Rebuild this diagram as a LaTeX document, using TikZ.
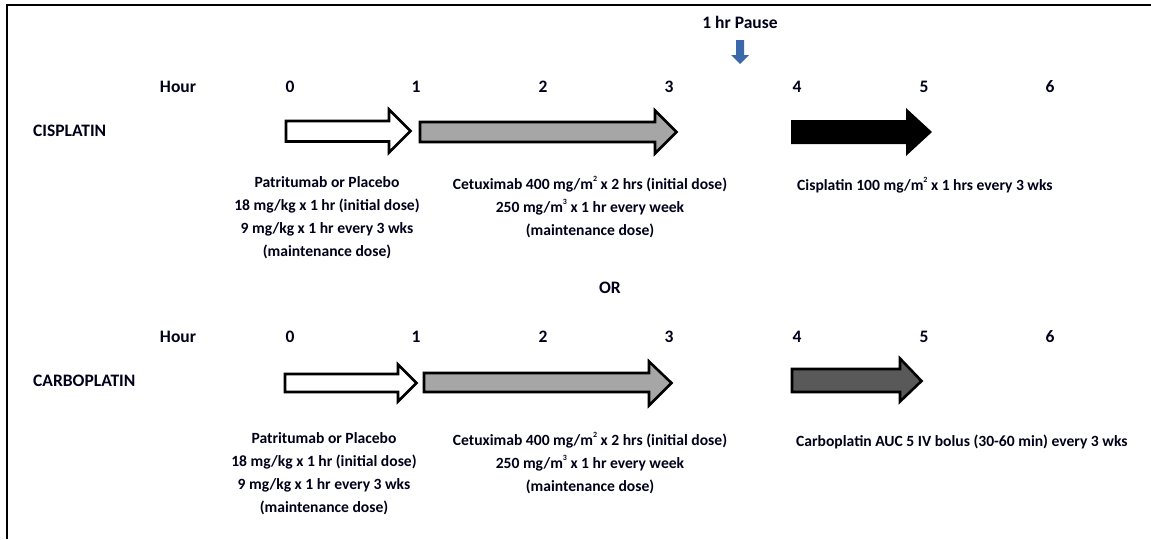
\documentclass[tikz,border=0pt]{standalone}
\usepackage{fontspec}
\setmainfont{Carlito}
\newcommand{\supx}[1]{\raisebox{0.5em}{\fontsize{8}{8}\selectfont #1}}
\begin{document}
\begin{tikzpicture}[x=1pt,y=-1pt,
  lbl/.style={font=\bfseries\fontsize{17.5}{23}\selectfont, inner sep=0pt, text=black!90!blue},
  txt/.style={font=\bfseries\fontsize{15.6}{23}\selectfont, inner sep=0pt, text=black!90!blue},
  blk/.style={txt, align=center, anchor=north},
  barrow/.style={draw=black, line width=2.6pt, line join=miter, miter limit=10},
  frame/.style={line width=2.7pt}]
\useasboundingbox (0,0) rectangle (1151,539);
% frame
\draw[frame] (7,539) -- (7,5) -- (1151,5);
% pause
\node[lbl, anchor=base] (pause) at (740,28) {1 hr Pause};
\fill[fill={rgb,255:red,59;green,104;blue,170}] (736,40) -- (744,40) -- (744,55) -- (749,55) -- (740,64) -- (731,55) -- (736,55) -- cycle;
% hour rows
\foreach \y/\r in {92/a,342/b}{
  \node[lbl, anchor=base] (hour\r) at (178,\y) {Hour};
  \foreach \x [count=\i from 0] in {290,416,543,669,797,924,1050}
    \node[lbl, anchor=base] (h\r\i) at (\x,\y) {\i};
}
\node[lbl, anchor=base west] (cis) at (33,136) {CISPLATIN};
\node[lbl, anchor=base west] (carbo) at (33,386) {CARBOPLATIN};
\node[lbl, anchor=base] (or) at (610,293) {OR};
% row 1 arrows
\draw[barrow, fill=white] (286,121) -- (389,121) -- (389,109.5) -- (410.5,131) -- (389,152.5) -- (389,141.5) -- (286,141.5) -- cycle;
\draw[barrow, fill={rgb,255:red,166;green,166;blue,166}] (420,122) -- (655,122) -- (655,110.5) -- (676.5,132) -- (655,153.5) -- (655,142) -- (420,142) -- cycle;
\fill[black] (791,120) -- (906,120) -- (906,108) -- (932,132) -- (906,156) -- (906,144) -- (791,144) -- cycle;
% row 2 arrows
\draw[barrow, fill=white] (285,374) -- (398,374) -- (398,364.5) -- (416.5,383) -- (398,401.5) -- (398,392) -- (285,392) -- cycle;
\draw[barrow, fill={rgb,255:red,166;green,166;blue,166}] (424,373) -- (649,373) -- (649,361.5) -- (671.5,383) -- (649,405.5) -- (649,392) -- (424,392) -- cycle;
\draw[barrow, fill={rgb,255:red,89;green,89;blue,89}] (792,369) -- (900,369) -- (900,358.5) -- (921.5,381) -- (900,401.5) -- (900,392) -- (792,392) -- cycle;
% row 1 texts
\node[blk] (pat1) at (327,176) {Patritumab or Placebo\\18 mg/kg x 1 hr (initial dose)\\9 mg/kg x 1 hr every 3 wks\\(maintenance dose)};
\node[blk] (cet1) at (590,176) {Cetuximab 400 mg/m\supx{2} x 2 hrs (initial dose)\\250 mg/m\supx{3} x 1 hr every week\\(maintenance dose)};
\node[txt, anchor=base west] (cisd) at (797,190) {Cisplatin 100 mg/m\supx{2} x 1 hrs every 3 wks};
% row 2 texts
\node[blk] (pat2) at (324,432) {Patritumab or Placebo\\18 mg/kg x 1 hr (initial dose)\\9 mg/kg x 1 hr every 3 wks\\(maintenance dose)};
\node[blk] (cet2) at (590,432) {Cetuximab 400 mg/m\supx{2} x 2 hrs (initial dose)\\250 mg/m\supx{3} x 1 hr every week\\(maintenance dose)};
\node[txt, anchor=base west] (carbod) at (796,446) {Carboplatin AUC 5 IV bolus (30-60 min) every 3 wks};
\end{tikzpicture}
\end{document}
